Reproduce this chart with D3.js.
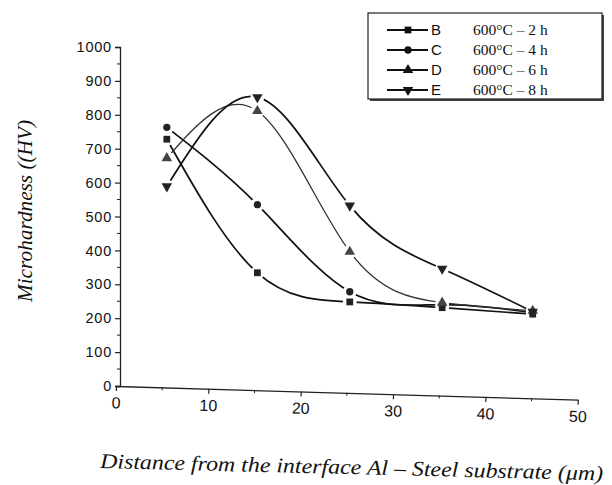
<!DOCTYPE html>
<html>
<head>
<meta charset="utf-8">
<script src="https://cdn.jsdelivr.net/npm/d3@7"></script>
<style>
  body { margin: 0; background: #fff; }
  svg { display: block; }
</style>
</head>
<body>
<svg id="chart" width="612" height="485"></svg>
<script>
// distance from interface (um)
const distances = [5.5, 15.3, 25.3, 35.3, 45.1];

// microhardness (HV) per series
const seriesB = [728, 334, 248, 231, 212];
const seriesC = [763, 535, 278, 240, 216];
const seriesD = [672, 811, 396, 246, 222];
const seriesE = [589, 852, 532, 346, 219];

const seriesNames = ['B', 'C', 'D', 'E'];
const seriesLabels = ['600\u00B0C \u2013 2 h', '600\u00B0C \u2013 4 h', '600\u00B0C \u2013 6 h', '600\u00B0C \u2013 8 h'];

const xTicks = [0, 10, 20, 30, 40, 50];
const yTicks = [0, 100, 200, 300, 400, 500, 600, 700, 800, 900, 1000];

const svg = d3.select('#chart');

const x = d3.scaleLinear().domain([0, 50]).range([116, 578]);
const y = d3.scaleLinear().domain([0, 1000]).range([386, 47]);

const symbols = [
  { type: d3.symbolSquare, size: 46, rot: 0 },
  { type: d3.symbolCircle, size: 42, rot: 0 },
  { type: d3.symbolTriangle, size: 48, rot: 0 },
  { type: d3.symbolTriangle, size: 48, rot: 180 }
];

const allSeries = [seriesB, seriesC, seriesD, seriesE].map((vals, i) => ({
  name: seriesNames[i],
  label: seriesLabels[i],
  sym: symbols[i],
  points: vals.map((v, j) => ({ x: distances[j], y: v }))
}));

// y axis
const yAxis = svg.append('g')
  .attr('transform', `translate(${x(0) + 4},0)`)
  .call(d3.axisLeft(y).tickValues(yTicks).tickFormat(d3.format('d')).tickSize(5).tickPadding(3));
yAxis.selectAll('text')
  .style('font-family', '"Liberation Sans", Arial, sans-serif')
  .style('font-size', '14.5px')
  .style('letter-spacing', '0.8px')
  .attr('fill', '#111');
yAxis.select('.domain').attr('stroke', '#222').attr('stroke-width', 1.3);
yAxis.selectAll('.tick line').attr('stroke', '#222').attr('stroke-width', 1.2);
yAxis.append('g').selectAll('line')
  .data(d3.range(50, 1000, 100))
  .join('line')
  .attr('x1', -3).attr('x2', 0)
  .attr('y1', d => y(d)).attr('y2', d => y(d))
  .attr('stroke', '#222');

// x axis (slightly tilted like the scan)
const xAxis = svg.append('g')
  .attr('transform', `rotate(1.7, ${x(0)}, ${y(0)}) translate(0,${y(0)})`)
  .call(d3.axisBottom(x).tickValues(xTicks).tickSize(5).tickPadding(6).tickSizeOuter(0));
xAxis.selectAll('text')
  .style('font-family', '"Liberation Sans", Arial, sans-serif')
  .style('font-size', '16px')
  .attr('fill', '#111');
xAxis.select('.domain').attr('stroke', '#222').attr('stroke-width', 1.3);
xAxis.selectAll('.tick line').attr('stroke', '#222').attr('stroke-width', 1.2);
xAxis.append('g').selectAll('line')
  .data([5, 15, 25, 35, 45])
  .join('line')
  .attr('x1', d => x(d)).attr('x2', d => x(d))
  .attr('y1', 0).attr('y2', 3)
  .attr('stroke', '#222');

// axis titles
svg.append('text')
  .attr('transform', `translate(32,211) rotate(-90)`)
  .attr('text-anchor', 'middle')
  .attr('textLength', 182)
  .attr('lengthAdjust', 'spacingAndGlyphs')
  .style('font-family', '"Liberation Serif", "Times New Roman", serif')
  .style('font-style', 'italic')
  .style('font-size', '20.5px')
  .attr('fill', '#111')
  .text('Microhardness ((HV)');

svg.append('text')
  .attr('transform', `rotate(1.4, 100, 468)`)
  .attr('x', 100)
  .attr('y', 468)
  .attr('textLength', 503)
  .attr('lengthAdjust', 'spacingAndGlyphs')
  .style('font-family', '"Liberation Serif", "Times New Roman", serif')
  .style('font-style', 'italic')
  .style('font-size', '21px')
  .attr('fill', '#111')
  .text('Distance from the interface Al \u2013 Steel substrate (\u03BCm)');

// curves
const line = d3.line()
  .x(d => x(d.x))
  .y(d => y(d.y))
  .curve(d3.curveNatural);

const plot = svg.append('g');

plot.selectAll('path.curve')
  .data(allSeries)
  .join('path')
  .attr('class', 'curve')
  .attr('d', d => line(d.points))
  .attr('fill', 'none')
  .attr('stroke', (d, i) => i === 2 ? '#333' : '#111')
  .attr('stroke-width', (d, i) => i === 2 ? 1.3 : 1.7);

// markers with white gap around them
const halo = d3.symbol().type(d3.symbolCircle).size(150);
allSeries.forEach(s => {
  plot.append('g').selectAll('path.halo')
    .data(s.points)
    .join('path')
    .attr('class', 'halo')
    .attr('d', halo())
    .attr('transform', d => `translate(${x(d.x)},${y(d.y)})`)
    .attr('fill', '#fff');
});
allSeries.forEach((s, i) => {
  const sym = d3.symbol().type(s.sym.type).size(s.sym.size);
  plot.append('g').selectAll('path.mark')
    .data(s.points)
    .join('path')
    .attr('class', 'mark')
    .attr('d', sym())
    .attr('transform', d => `translate(${x(d.x)},${y(d.y)}) rotate(${s.sym.rot})`)
    .attr('fill', i === 2 ? '#444' : '#222');
});

// legend
const legend = svg.append('g').attr('transform', 'translate(368,13)');
legend.append('rect')
  .attr('x', 2).attr('y', 2)
  .attr('width', 234).attr('height', 86)
  .attr('fill', '#444');
legend.append('rect')
  .attr('width', 234).attr('height', 86)
  .attr('fill', '#fff')
  .attr('stroke', '#222')
  .attr('stroke-width', 1.2);

const rows = legend.selectAll('g.row')
  .data(allSeries)
  .join('g')
  .attr('class', 'row')
  .attr('transform', (d, i) => `translate(0,${17 + i * 20})`);

rows.append('line')
  .attr('x1', 19).attr('x2', 60)
  .attr('stroke', '#111')
  .attr('stroke-width', 1.8);
rows.append('path')
  .attr('d', d => d3.symbol().type(d.sym.type).size(d.sym.size)())
  .attr('transform', d => `translate(40,0) rotate(${d.sym.rot})`)
  .attr('fill', '#111');
rows.append('text')
  .attr('x', 63).attr('y', 5)
  .style('font-family', '"Liberation Sans", Arial, sans-serif')
  .style('font-size', '15px')
  .attr('fill', '#111')
  .text(d => d.name);
rows.append('text')
  .attr('x', 105).attr('y', 5)
  .style('font-family', '"Liberation Serif", "Times New Roman", serif')
  .style('font-size', '15.5px')
  .attr('fill', '#111')
  .text(d => d.label);
</script>
</body>
</html>
